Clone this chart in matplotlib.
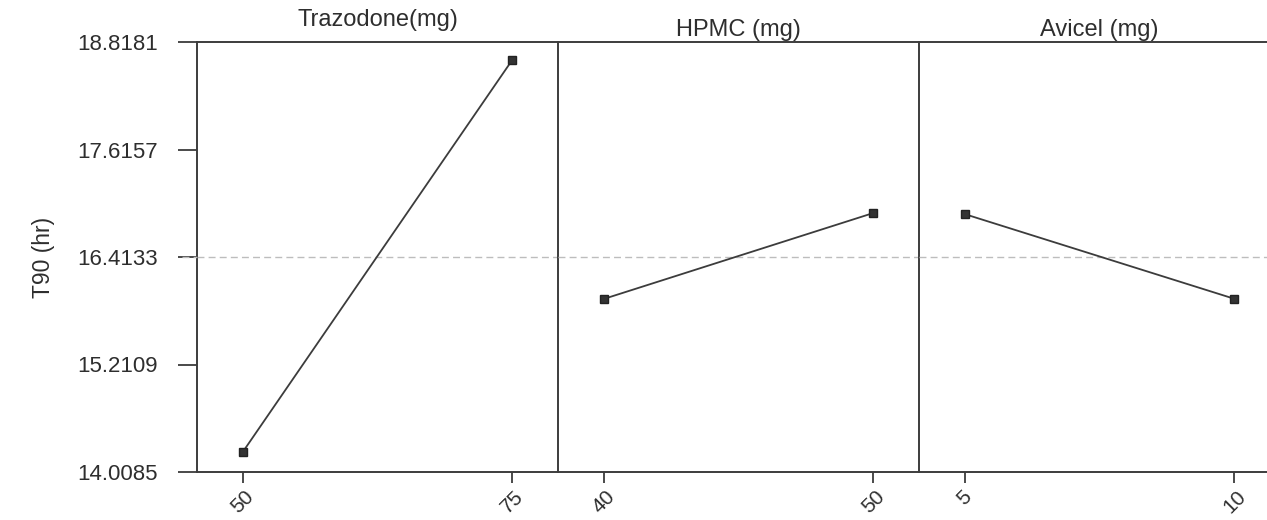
import matplotlib.pyplot as plt
import numpy as np

plt.rcParams['font.family'] = ['Liberation Sans', 'DejaVu Sans']

# --- Data ---
factors = ["Trazodone(mg)", "HPMC (mg)", "Avicel (mg)"]
levels = [[50, 75], [40, 50], [5, 10]]
level_labels = [["50", "75"], ["40", "50"], ["5", "10"]]
t90_means = [[14.232, 18.617], [15.944, 16.905], [16.893, 15.946]]
y_ticks = [14.0085, 15.2109, 16.4133, 17.6157, 18.8181]
grand_mean = 16.4133

LINE = '#3c3c3c'
TEXT = '#2e2e2e'

fig = plt.figure(figsize=(12.67, 5.2), dpi=100)

left_px, panel_px = 197, 361
bottom, height = 1 - 472 / 520, (472 - 42) / 520
title_y = [1.025, 1.0, 1.0]

axes = []
for i, name in enumerate(factors):
    ax = fig.add_axes([(left_px + i * panel_px) / 1267, bottom, panel_px / 1267, height])
    # transparent background so neighbouring panels don't hide the divider spines
    ax.set_facecolor('none')
    axes.append(ax)
    xs = levels[i]
    span = xs[1] - xs[0]
    pad = span * 46 / 271
    ax.set_xlim(xs[0] - pad, xs[1] + pad)
    ax.set_ylim(y_ticks[0], y_ticks[-1])

    # grand mean reference line
    ax.axhline(grand_mean, color='#bdbdbd', lw=1.0, ls=(0, (5, 3)), zorder=1)
    ax.plot(xs, t90_means[i], color=LINE, lw=1.3, marker='s', ms=5.5,
            mfc='#333333', mec='#222222', zorder=3)

    ax.set_xticks(xs)
    ax.set_xticklabels(level_labels[i], rotation=45, fontsize=15, color=TEXT)
    ax.tick_params(axis='x', direction='out', length=8, width=1.3, color=LINE, pad=3)
    ax.set_title(name, fontsize=17, color=TEXT, y=title_y[i], pad=4)

    for s in ['top', 'bottom', 'left', 'right']:
        ax.spines[s].set_color(LINE)
        ax.spines[s].set_linewidth(1.4)

    if i == 0:
        ax.set_yticks(y_ticks)
        ax.set_yticklabels([f"{v:.4f}" for v in y_ticks], fontsize=16, color=TEXT)
        ax.tick_params(axis='y', direction='out', length=14, width=1.3, color=LINE, pad=14)
        ax.set_ylabel("T90 (hr)", fontsize=16.5, color=TEXT, labelpad=16)
    else:
        ax.set_yticks([])
        ax.spines['left'].set_visible(False)

# light dashed mean line continuing left of the axis
fig.add_artist(plt.Line2D([182 / 1267, left_px / 1267],
                          [1 - 257 / 520] * 2, color='#bdbdbd', lw=1.0, ls=(0, (5, 3))))

fig.savefig("out.png", dpi=100)
